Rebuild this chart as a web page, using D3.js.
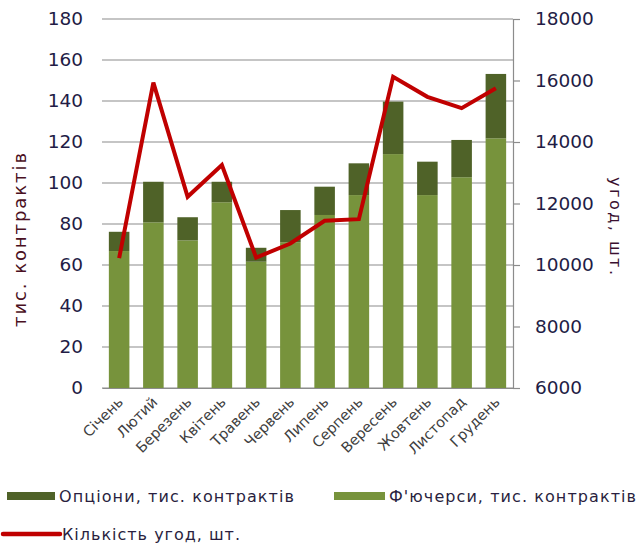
<!DOCTYPE html>
<html>
<head>
<meta charset="utf-8">
<script src="https://cdn.jsdelivr.net/npm/d3@7/dist/d3.min.js"></script>
<style>
  body { margin: 0; background: #fff; }
  svg { display: block; font-family: "DejaVu Sans", Verdana, sans-serif; }
</style>
</head>
<body>
<svg class="svg-chart" width="637" height="543"></svg>
<script>
const months = ['Січень', 'Лютий', 'Березень', 'Квітень', 'Травень', 'Червень',
  'Липень', 'Серпень', 'Вересень', 'Жовтень', 'Листопад', 'Грудень'];
const futures = [66.8, 80.8, 72.0, 90.6, 61.6, 71.1, 84.4, 94.1, 114.1, 94.1, 102.8, 121.8];
const options = [9.4, 19.8, 11.3, 10.0, 6.8, 15.7, 13.8, 15.5, 25.6, 16.3, 18.2, 31.4];
const deals = [10220, 15930, 12220, 13250, 10240, 10700, 11440, 11490, 16120, 15470, 15100, 15750];
const leftTicks = [0, 20, 40, 60, 80, 100, 120, 140, 160, 180];
const rightTicks = [6000, 8000, 10000, 12000, 14000, 16000, 18000];

const svg = d3.select('.svg-chart');
const margin = { top: 19, left: 102, right: 124, bottom: 155 };
const width = 637 - margin.left - margin.right;
const height = 543 - margin.top - margin.bottom;

const x = d3.scaleBand().domain(months).range([0, width]).paddingInner(0.4).paddingOuter(0.2);
const y = d3.scaleLinear().domain([0, 180]).range([height, 0]);
const y2 = d3.scaleLinear().domain([6000, 18000]).range([height, 0]);

const g = svg.append('g').attr('transform', 'translate(' + margin.left + ',' + margin.top + ')');

// gridlines
g.append('g')
  .selectAll('line')
  .data(leftTicks)
  .join('line')
  .attr('x1', 0).attr('x2', width)
  .attr('y1', d => y(d)).attr('y2', d => y(d))
  .attr('stroke', '#8c8c8c').attr('stroke-width', 1.2);

// left axis labels
const yAxis = d3.axisLeft(y).tickValues(leftTicks).tickSize(0).tickPadding(19);
g.append('g').call(yAxis)
  .call(s => s.select('.domain').remove())
  .selectAll('text')
  .attr('font-size', 18.5).attr('fill', '#221c45')
  .attr('font-family', '"DejaVu Sans", Verdana, sans-serif');

// right axis
const yAxis2 = d3.axisRight(y2).tickValues(rightTicks).tickFormat(d3.format('d')).tickSize(7).tickPadding(15);
g.append('g').attr('transform', 'translate(' + width + ',0)').call(yAxis2)
  .call(s => s.select('.domain').attr('stroke', '#8c8c8c').attr('stroke-width', 1.2))
  .call(s => s.selectAll('.tick line').attr('stroke', '#8c8c8c').attr('stroke-width', 1.2))
  .selectAll('text')
  .attr('font-size', 18.5).attr('fill', '#221c45')
  .attr('font-family', '"DejaVu Sans", Verdana, sans-serif');

// stacked bars
const bars = g.append('g');
bars.selectAll('.fut')
  .data(months)
  .join('rect')
  .attr('class', 'fut')
  .attr('x', d => x(d))
  .attr('width', x.bandwidth())
  .attr('y', (d, i) => y(futures[i]))
  .attr('height', (d, i) => y(0) - y(futures[i]))
  .attr('fill', '#77933c');
bars.selectAll('.opt')
  .data(months)
  .join('rect')
  .attr('class', 'opt')
  .attr('x', d => x(d))
  .attr('width', x.bandwidth())
  .attr('y', (d, i) => y(futures[i] + options[i]))
  .attr('height', (d, i) => y(futures[i]) - y(futures[i] + options[i]))
  .attr('fill', '#4f6228');

// bottom axis
const xAxis = d3.axisBottom(x).tickSize(0).tickPadding(0);
const xg = g.append('g').attr('transform', 'translate(0,' + height + ')').call(xAxis);
xg.select('.domain').attr('stroke', '#8c8c8c').attr('stroke-width', 1.2);
xg.selectAll('text')
  .attr('font-size', 14.5).attr('fill', '#404040')
  .attr('font-family', '"DejaVu Sans", Verdana, sans-serif')
  .attr('text-anchor', 'end')
  .attr('dy', 0)
  .attr('transform', 'translate(5,15) rotate(-45)');

// line
const line = d3.line()
  .x((d, i) => x(months[i]) + x.bandwidth() / 2)
  .y(d => y2(d));
g.append('path')
  .datum(deals)
  .attr('d', line)
  .attr('fill', 'none')
  .attr('stroke', '#c00000')
  .attr('stroke-width', 4)
  .attr('stroke-linejoin', 'miter');

// axis titles
svg.append('text')
  .attr('transform', 'translate(26,240) rotate(-90)')
  .attr('text-anchor', 'middle')
  .attr('font-size', 18)
  .attr('fill', '#4a0f22')
  .attr('textLength', 174)
  .attr('lengthAdjust', 'spacing')
  .text('тис. контрактів');
svg.append('text')
  .attr('transform', 'translate(610,226) rotate(90)')
  .attr('text-anchor', 'middle')
  .attr('font-size', 16)
  .attr('fill', '#3a1030')
  .attr('textLength', 98)
  .attr('lengthAdjust', 'spacing')
  .text('угод, шт.');

// legend
const legend = svg.append('g').attr('font-size', 16).attr('fill', '#2a1f40');
const items = [
  { label: 'Опціони, тис. контрактів', color: '#4f6228', type: 'rect', x: 7, y: 496, w: 48, len: 235 },
  { label: 'Ф\'ючерси, тис. контрактів', color: '#77933c', type: 'rect', x: 334, y: 496, w: 51, len: 247 },
  { label: 'Кількість угод, шт.', color: '#c00000', type: 'line', x: 3, y: 534, w: 57, len: 178 }
];
items.forEach(it => {
  if (it.type === 'rect') {
    legend.append('rect').attr('x', it.x).attr('y', it.y - 4).attr('width', it.w).attr('height', 8).attr('fill', it.color);
  } else {
    legend.append('line').attr('x1', it.x).attr('x2', it.x + it.w).attr('y1', it.y).attr('y2', it.y)
      .attr('stroke', it.color).attr('stroke-width', 4.5).attr('stroke-linecap', 'round');
  }
  legend.append('text')
    .attr('x', it.x + it.w + (it.type === 'rect' ? 4 : 2))
    .attr('y', it.y).attr('dy', '0.35em')
    .attr('textLength', it.len).attr('lengthAdjust', 'spacing')
    .text(it.label);
});
</script>
</body>
</html>
